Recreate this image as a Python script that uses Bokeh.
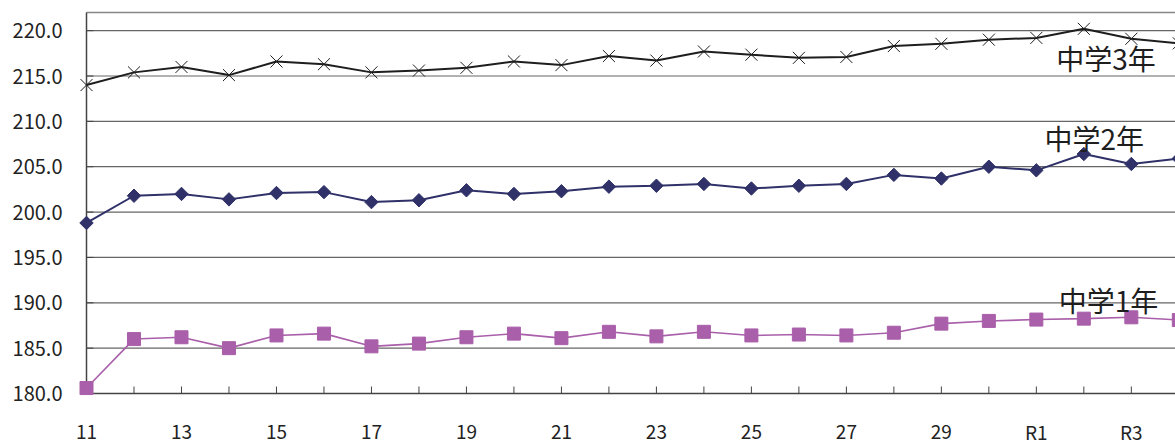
import math
from bokeh.plotting import figure
from bokeh.models import Range1d
from bokeh.core.properties import value
from bokeh.embed import file_html
from bokeh.resources import INLINE

# School years (Heisei 11 .. Reiwa 4)
years = ["11", "12", "13", "14", "15", "16", "17", "18", "19", "20", "21", "22",
         "23", "24", "25", "26", "27", "28", "29", "30", "R1", "R2", "R3", "R4"]

# Averages per grade
grade3 = [214.0, 215.4, 216.0, 215.1, 216.6, 216.3, 215.4, 215.6, 215.9, 216.6, 216.2, 217.2,
          216.7, 217.7, 217.35, 217.0, 217.1, 218.3, 218.55, 219.0, 219.2, 220.2, 219.1, 218.6]
grade2 = [198.8, 201.8, 202.0, 201.4, 202.1, 202.2, 201.1, 201.3, 202.4, 202.0, 202.3, 202.8,
          202.9, 203.1, 202.6, 202.9, 203.1, 204.1, 203.7, 205.0, 204.6, 206.4, 205.3, 205.9]
grade1 = [180.6, 186.0, 186.2, 185.0, 186.4, 186.6, 185.2, 185.5, 186.2, 186.6, 186.1, 186.8,
          186.3, 186.8, 186.4, 186.5, 186.4, 186.7, 187.7, 188.0, 188.15, 188.25, 188.4, 188.1]

series_names = ["中学3年", "中学2年", "中学1年"]
y_ticks = [180, 185, 190, 195, 200, 205, 210, 215, 220]
y_tick_labels = [f"{t:.1f}" for t in y_ticks]

FONT = "Noto Sans CJK JP"
TEXT = "#222222"
AXIS = "#444444"
xs = list(range(len(years)))

# canvas geometry (pixels): plotting area from x=86 to the right edge, y=12 to y=393
W, H = 1175, 445
LEFT, TOP, BOTTOM = 86, 12, 393
X_END = 22.93
Y_MIN, Y_MAX = 180, 222
px_x = (W - LEFT) / X_END
px_y = (BOTTOM - TOP) / (Y_MAX - Y_MIN)

# one frame covering the whole canvas; axes are drawn by hand so that
# tick labels may sit anywhere on the page
p = figure(width=W, height=H, output_backend="svg", toolbar_location=None,
           x_range=Range1d(-LEFT / px_x, X_END),
           y_range=Range1d(Y_MIN - (H - BOTTOM) / px_y, Y_MAX + TOP / px_y),
           min_border=0)
p.axis.visible = False
p.grid.visible = False
p.outline_line_color = None

n_y = len(y_ticks)
# horizontal grid lines and the top rule
p.segment(x0=[0] * (n_y - 1), x1=[X_END] * (n_y - 1), y0=y_ticks[1:], y1=y_ticks[1:],
          line_color="#666666", line_width=1.2)
p.segment(x0=[0], x1=[X_END], y0=[Y_MAX], y1=[Y_MAX], line_color="#888888", line_width=1.5)

# y axis: line, inward ticks, labels
tick_w = 7 / px_x
p.segment(x0=[0], x1=[0], y0=[Y_MIN], y1=[Y_MAX], line_color=AXIS, line_width=1.5)
p.segment(x0=[0] * n_y, x1=[tick_w] * n_y, y0=y_ticks, y1=y_ticks, line_color=AXIS, line_width=1)
p.text(x=[0] * n_y, y=y_ticks, text=y_tick_labels, x_offset=-24,
       text_font=value(FONT), text_font_size="20px", text_color=TEXT,
       text_align="right", text_baseline="middle")

# x axis: line, inward ticks at every year, labels at every other year
tick_h = 7 / px_y
n_x = len(xs)
p.segment(x0=[0], x1=[X_END], y0=[Y_MIN], y1=[Y_MIN], line_color=AXIS, line_width=1.5)
p.segment(x0=xs, x1=xs, y0=[Y_MIN] * n_x, y1=[Y_MIN + tick_h] * n_x, line_color=AXIS, line_width=1)
p.text(x=xs[::2], y=[Y_MIN - 38 / px_y] * len(xs[::2]), text=years[::2],
       text_font=value(FONT), text_font_size="19px", text_color=TEXT,
       text_align="center", text_baseline="middle")

# grade 3: black line with x markers
p.line(xs, grade3, line_color="#1e1e1e", line_width=2)
p.scatter(xs, grade3, marker="x", size=17, line_color="#1e1e1e", line_width=1)

# grade 2: navy line with diamonds
navy = "#2f3168"
p.line(xs, grade2, line_color=navy, line_width=2)
p.scatter(xs, grade2, marker="square", angle=math.pi / 4, size=9.5,
          fill_color=navy, line_color=navy)

# grade 1: purple line with squares
purple = "#a95fa9"
p.line(xs, grade1, line_color=purple, line_width=1.6)
p.scatter(xs, grade1, marker="square", size=13, fill_color=purple, line_color=purple)

# series names beside the right end of each line
p.text(x=[20.42, 20.17, 20.47], y=[216.95, 208.2, 190.35], text=series_names,
       text_font=value(FONT), text_font_size="28px", text_color="#1e1e1e",
       text_align="left", text_baseline="middle")

open("out.html", "w").write(file_html(p, INLINE))
